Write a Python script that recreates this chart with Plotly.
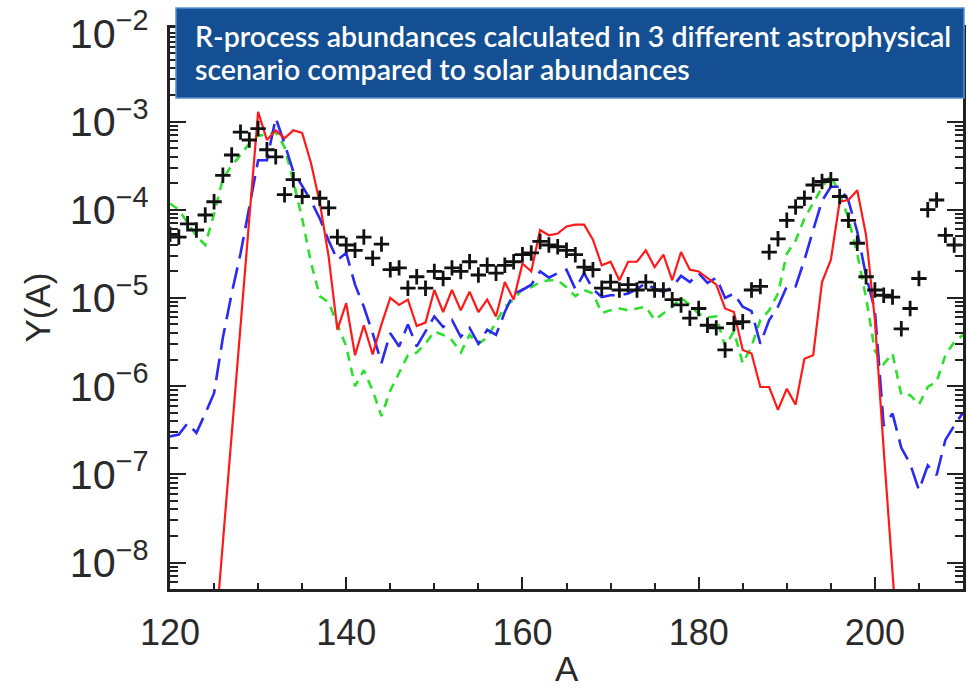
import plotly.graph_objects as go

# ---------------- data (log10 of Y(A)) ----------------
A_models = list(range(120, 211))

red_A = list(range(125, 204))
red_log = [-9.0, -7.8, -6.55, -5.3, -4.1, -2.89, -3.21, -3.10, -3.19, -3.10,
           -3.13, -3.47, -3.92, -4.53, -5.36, -5.06, -5.65, -5.31, -5.64, -5.30,
           -5.00, -5.08, -5.02, -5.32, -5.28, -4.91, -5.16, -4.91, -5.14, -4.93,
           -5.16, -5.02, -5.21, -4.82, -5.02, -4.61, -4.70, -4.23, -4.29, -4.27,
           -4.19, -4.17, -4.17, -4.34, -4.63, -4.59, -4.80, -4.59, -4.59, -4.46,
           -4.65, -4.51, -4.80, -4.48, -4.68, -4.70, -4.78, -4.85, -5.12, -5.16,
           -5.59, -5.63, -6.01, -6.01, -6.27, -6.03, -6.21, -5.69, -5.65, -4.82,
           -4.57, -3.91, -3.89, -3.78, -4.29, -5.25, -6.72, -8.20, -9.50]

blue_log = [-6.57, -6.55, -6.42, -6.53, -6.31, -6.08, -5.45, -4.95, -4.50, -3.95,
            -3.44, -3.44, -2.96, -3.25, -3.57, -3.73, -3.90, -4.10, -4.35, -4.57,
            -4.49, -4.85, -5.10, -5.40, -5.74, -5.40, -5.55, -5.30, -5.55, -5.38,
            -5.21, -5.33, -5.25, -5.44, -5.34, -5.52, -5.36, -5.42, -5.16, -4.95,
            -4.91, -4.85, -4.70, -4.77, -4.72, -4.68, -4.90, -4.72, -4.90, -4.99,
            -4.97, -4.97, -4.95, -4.90, -4.83, -4.90, -4.93, -4.88, -4.75, -4.82,
            -4.72, -4.83, -4.77, -5.00, -4.95, -5.10, -5.15, -5.52, -5.25, -5.10,
            -4.87, -4.87, -4.57, -4.23, -3.90, -3.74, -3.74, -3.90, -4.25, -4.75,
            -5.14, -6.45, -6.31, -6.70, -6.88, -7.18, -6.90, -7.01, -6.61, -6.45,
            -6.30]

green_log = [-3.93, -4.00, -4.15, -4.30, -4.40, -4.05, -3.65, -3.50, -3.38, -3.25,
             -3.16, -3.15, -3.12, -3.29, -3.68, -4.10, -4.60, -4.98, -5.05, -5.30,
             -5.55, -6.00, -5.82, -6.05, -6.34, -6.05, -5.85, -5.65, -5.62, -5.52,
             -5.38, -5.42, -5.48, -5.62, -5.42, -5.52, -5.45, -5.28, -5.10, -5.02,
             -4.90, -4.88, -4.82, -4.80, -4.80, -4.88, -4.98, -4.91, -4.95, -5.17,
             -5.14, -5.12, -5.14, -5.12, -5.10, -5.25, -5.17, -5.10, -5.00, -5.08,
             -5.18, -5.22, -5.21, -5.55, -5.38, -5.74, -5.55, -5.25, -5.14, -4.95,
             -4.50, -4.35, -4.10, -3.92, -3.75, -3.61, -3.82, -4.10, -4.50, -5.00,
             -5.60, -5.75, -5.63, -6.10, -6.10, -6.21, -6.01, -5.95, -5.65, -5.50,
             -5.42]

solar_A = [120, 121, 122, 123, 124, 125, 126, 127, 128, 129, 130, 131, 132, 133,
           134, 135, 137, 138, 139, 140, 141, 142, 143, 144, 145, 146, 147, 148,
           149, 150, 151, 152, 153, 154, 155, 156, 157, 158, 159, 160, 161, 162,
           163, 164, 165, 166, 167, 168, 169, 170, 171, 172, 173, 174, 175, 176,
           177, 178, 179, 180, 181, 182, 183, 184, 185, 186, 187, 188, 189, 190,
           191, 192, 193, 194, 195, 196, 197, 198, 199, 200, 201, 202, 203, 204,
           205, 206, 207, 208, 209]
solar_log = [-4.28, -4.31, -4.16, -4.23, -4.06, -3.91, -3.61, -3.38, -3.12, -3.21,
             -3.08, -3.32, -3.40, -3.83, -3.66, -3.85, -3.87, -3.98, -4.31, -4.40,
             -4.46, -4.31, -4.55, -4.39, -4.68, -4.66, -4.89, -4.76, -4.89, -4.70,
             -4.78, -4.66, -4.70, -4.59, -4.74, -4.63, -4.72, -4.63, -4.59, -4.51,
             -4.49, -4.36, -4.40, -4.42, -4.46, -4.51, -4.65, -4.68, -4.89, -4.82,
             -4.91, -4.85, -4.91, -4.82, -4.91, -4.91, -5.02, -5.08, -5.23, -5.12,
             -5.31, -5.34, -5.59, -5.29, -5.27, -4.91, -4.87, -4.48, -4.33, -4.12,
             -3.97, -3.87, -3.72, -3.68, -3.66, -3.85, -4.12, -4.38, -4.76, -4.91,
             -4.97, -4.99, -5.35, -5.12, -4.78, -4.00, -3.89, -4.29, -4.40]

title_lines = ["R-process abundances calculated in 3 different astrophysical",
               "scenario compared to solar abundances"]

# ---------------- figure ----------------
def tolin(v):
    return [10 ** x for x in v]

W, H = 969, 691
L, R, T, B = 170, 3, 28, 102
pw, ph = W - L - R, H - T - B

def px(x):
    return (x - L) / pw

def py(y):
    return (H - B - y) / ph

fig = go.Figure()
fig.add_trace(go.Scatter(x=A_models, y=tolin(green_log), mode="lines",
                         line=dict(color="#2ee02e", width=2.6, dash="9px,7px"),
                         showlegend=False))
fig.add_trace(go.Scatter(x=A_models, y=tolin(blue_log), mode="lines",
                         line=dict(color="#2a2af0", width=2.6, dash="22px,9px"),
                         showlegend=False))
fig.add_trace(go.Scatter(x=red_A, y=tolin(red_log), mode="lines",
                         line=dict(color="#ff1a1a", width=2.2),
                         showlegend=False))
fig.add_trace(go.Scatter(x=solar_A, y=tolin(solar_log), mode="markers",
                         marker=dict(symbol="cross-thin", size=11,
                                     line=dict(color="#111111", width=2.8)),
                         showlegend=False))

axis_font = dict(family="Liberation Sans, Arial, sans-serif", color="#2a2a2a")

fig.update_xaxes(range=[120, 210], tick0=120, dtick=20, ticks="inside",
                 ticklen=12, tickwidth=2, tickcolor="#222",
                 minor=dict(dtick=5, ticks="inside", ticklen=6, tickwidth=2,
                            tickcolor="#222"),
                 showline=True, linecolor="#222", linewidth=2.5, mirror="ticks",
                 showgrid=False, zeroline=False,
                 tickfont=dict(size=36, **axis_font), ticklabelstandoff=10)
fig.update_yaxes(type="log", range=[-8.3, -1.94], dtick=1, ticks="inside",
                 ticklen=16, tickwidth=2, tickcolor="#222",
                 minor=dict(ticks="inside", ticklen=8, tickwidth=1.5,
                            tickcolor="#222"),
                 exponentformat="power", showexponent="all",
                 showline=True, linecolor="#222", linewidth=2.5, mirror="ticks",
                 showgrid=False, zeroline=False,
                 tickfont=dict(size=33, **axis_font), ticklabelstandoff=12)

fig.add_shape(type="rect", xref="paper", yref="paper",
              x0=px(176), x1=px(967), y0=py(98), y1=py(8),
              fillcolor="#134f92", line=dict(color="#5a8fd0", width=1.5),
              layer="above")
for line, yc in zip(title_lines, [36, 69]):
    fig.add_annotation(xref="paper", yref="paper", x=px(193), y=py(yc),
                       xanchor="left", yanchor="middle", showarrow=False,
                       text=line,
                       font=dict(family="Lato, sans-serif", size=28.5,
                                 color="white", weight=600))

fig.add_annotation(xref="paper", yref="paper", x=0.5, y=py(690),
                   xanchor="center", yanchor="bottom", showarrow=False,
                   text="A", font=dict(size=35, **axis_font))
fig.add_annotation(xref="paper", yref="paper", x=px(36), y=py(308),
                   xanchor="center", yanchor="middle", showarrow=False,
                   text="Y(A)", textangle=-90, font=dict(size=35, **axis_font))

fig.update_layout(width=W, height=H, margin=dict(l=L, r=R, t=T, b=B),
                  plot_bgcolor="white", paper_bgcolor="white")

fig.write_html("out.html")
